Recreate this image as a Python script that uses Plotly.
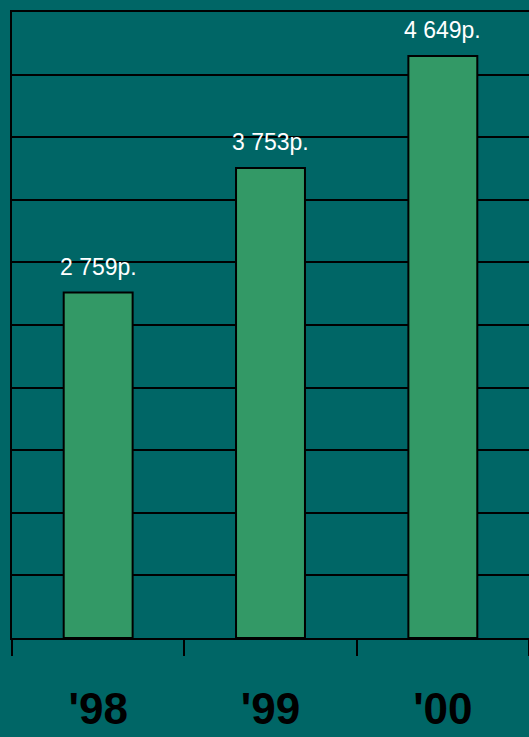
import plotly.graph_objects as go

years = ["'98", "'99", "'00"]
values = [2759, 3753, 4649]
labels = ["2 759р.", "3 753р.", "4 649р."]

BG = "#006666"
BAR = "#339966"

fig = go.Figure()
fig.add_trace(go.Bar(
    x=years, y=values,
    marker=dict(color=BAR, line=dict(color="black", width=2)),
    width=0.4,
    hoverinfo="skip",
))

for x, v, t in zip(years, values, labels):
    fig.add_annotation(x=x, y=v, text=t, showarrow=False,
                       yanchor="middle", yshift=26,
                       font=dict(family="Arial, Liberation Sans", size=23, color="white"))

fig.update_layout(
    width=529, height=737,
    margin=dict(l=12, r=0, t=12, b=99),
    paper_bgcolor=BG, plot_bgcolor=BG,
    showlegend=False,
    xaxis=dict(
        showline=True, linecolor="black", linewidth=2, mirror=True,
        ticks="outside", tickson="boundaries", ticklen=16, tickwidth=2, tickcolor="black",
        showgrid=False, automargin=False,
        tickfont=dict(family="Arial, Liberation Sans", size=44, color="black", weight="bold"),
        ticklabelstandoff=31,
    ),
    yaxis=dict(
        range=[0, 5000], dtick=500, automargin=False,
        showgrid=True, gridcolor="black", gridwidth=2,
        showline=True, linecolor="black", linewidth=2,
        showticklabels=False, ticks="", zeroline=False,
    ),
)

fig.write_html("out.html", config={"displayModeBar": False},
               post_script="document.body.style.margin='0';document.body.style.background='#006666';")
